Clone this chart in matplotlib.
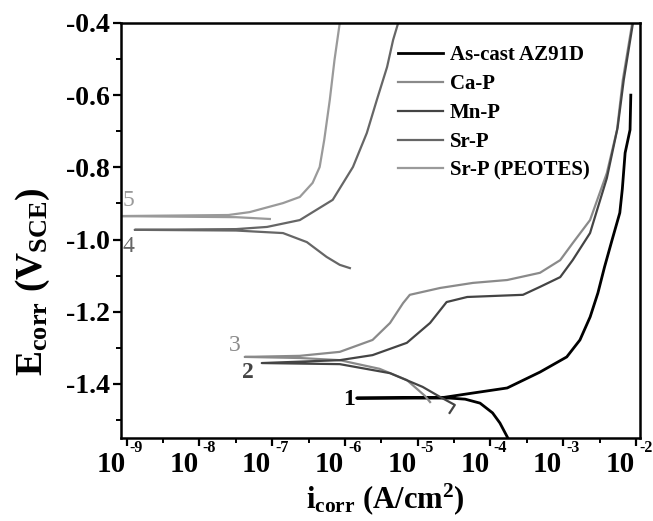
import matplotlib
matplotlib.use('Agg')
import matplotlib.pyplot as plt
from matplotlib.ticker import FixedLocator, NullFormatter
from matplotlib.transforms import blended_transform_factory, offset_copy

plt.rcParams['font.family'] = ['Liberation Serif', 'DejaVu Serif']
plt.rcParams['font.weight'] = 'bold'
plt.rcParams['mathtext.fontset'] = 'custom'
plt.rcParams['mathtext.rm'] = 'Liberation Serif'
plt.rcParams['mathtext.bf'] = 'Liberation Serif:bold'
plt.rcParams['mathtext.it'] = 'Liberation Serif:italic'
plt.rcParams['axes.unicode_minus'] = False

# 1: As-cast AZ91D
i_ascast = [1.74e-4, 1.35e-4, 1.07e-4, 7.2e-5, 4.5e-5, 2.75e-5, 1.45e-6, 2.3e-5, 5.75e-5,
            1.7e-4, 4.8e-4, 1.12e-3, 1.7e-3, 2.35e-3, 3.0e-3, 3.7e-3, 4.7e-3, 6.0e-3,
            6.5e-3, 7.1e-3, 8.3e-3, 8.5e-3]
e_ascast = [-1.550, -1.508, -1.480, -1.453, -1.442, -1.439, -1.439, -1.437, -1.425,
            -1.411, -1.367, -1.325, -1.278, -1.214, -1.148, -1.076, -1.001, -0.926,
            -0.860, -0.760, -0.696, -0.600]

# 2: Mn-P
i_mnp = [2.75e-5, 3.24e-5, 2.04e-5, 1.17e-5, 4.17e-6, 8.5e-7, 7.2e-8, 8.5e-7, 2.4e-6,
         7.1e-6, 1.48e-5, 2.5e-5, 4.8e-5, 2.8e-4, 4.8e-4, 9.1e-4, 1.35e-3, 2.34e-3,
         3.98e-3, 5.6e-3, 6.8e-3, 9.1e-3]
e_mnp = [-1.480, -1.458, -1.436, -1.408, -1.370, -1.345, -1.342, -1.334, -1.320,
         -1.286, -1.231, -1.173, -1.159, -1.153, -1.131, -1.104, -1.057, -0.982,
         -0.830, -0.690, -0.558, -0.400]

# 3: Ca-P
i_cap = [1.48e-5, 1.26e-5, 7.1e-6, 3.0e-6, 8.5e-7, 2.4e-7, 4.2e-8, 2.4e-7, 8.5e-7,
         2.4e-6, 4.17e-6, 6.3e-6, 7.8e-6, 2.04e-5, 5.75e-5, 1.7e-4, 4.8e-4, 9.1e-4,
         1.35e-3, 2.34e-3, 3.98e-3, 5.5e-3, 6.6e-3, 8.9e-3]
e_cap = [-1.450, -1.433, -1.389, -1.358, -1.334, -1.328, -1.325, -1.322, -1.311,
         -1.278, -1.231, -1.176, -1.153, -1.134, -1.120, -1.112, -1.092, -1.057,
         -1.010, -0.946, -0.816, -0.696, -0.558, -0.400]

# 4: Sr-P
i_srp = [1.17e-6, 8.5e-7, 5.6e-7, 3.0e-7, 1.41e-7, 3.2e-8, 1.29e-9, 3.2e-8, 8.5e-8,
         2.4e-7, 6.8e-7, 1.29e-6, 2.0e-6, 2.75e-6, 3.8e-6, 4.6e-6, 5.4e-6]
e_srp = [-1.079, -1.070, -1.048, -1.007, -0.982, -0.975, -0.973, -0.971, -0.965,
         -0.946, -0.890, -0.799, -0.705, -0.613, -0.522, -0.447, -0.400]

# 5: Sr-P (PEOTES)
i_peotes = [9.3e-8, 3.2e-8, 7e-10, 2.5e-8, 4.9e-8, 1.41e-7, 2.4e-7, 3.6e-7, 4.5e-7,
            5.2e-7, 6.2e-7, 7.2e-7, 8.5e-7]
e_peotes = [-0.943, -0.938, -0.935, -0.932, -0.924, -0.899, -0.882, -0.843, -0.799,
            -0.724, -0.613, -0.502, -0.400]

names = ['As-cast AZ91D', 'Ca-P', 'Mn-P', 'Sr-P', 'Sr-P (PEOTES)']
yticks = [-0.4, -0.6, -0.8, -1.0, -1.2, -1.4]
ytick_labels = ['-0.4', '-0.6', '-0.8', '-1.0', '-1.2', '-1.4']
xtick_exp = [-9, -8, -7, -6, -5, -4, -3, -2]

fig = plt.figure(figsize=(6.53, 5.21), dpi=100)
ax = fig.add_axes([0.185, 0.159, 0.795, 0.797])

ax.plot(i_ascast, e_ascast, color='#000000', lw=2.0, label=names[0])
ax.plot(i_cap, e_cap, color='#8a8a8a', lw=1.6, label=names[1])
ax.plot(i_mnp, e_mnp, color='#444444', lw=1.6, label=names[2])
ax.plot(i_srp, e_srp, color='#666666', lw=1.6, label=names[3])
ax.plot(i_peotes, e_peotes, color='#9a9a9a', lw=1.6, label=names[4])

# curve numbers
ax.text(1.15e-6, -1.444, '1', color='black', fontsize=17, fontweight='bold', ha='center', va='center')
ax.text(4.7e-8, -1.367, '2', color='#444444', fontsize=17, fontweight='bold', ha='center', va='center')
ax.text(3.1e-8, -1.292, '3', color='#8a8a8a', fontsize=17, fontweight='normal', ha='center', va='center')
ax.text(1.05e-9, -1.020, '4', color='#666666', fontsize=17, fontweight='normal', ha='center', va='center')
ax.text(1.05e-9, -0.893, '5', color='#9a9a9a', fontsize=17, fontweight='normal', ha='center', va='center')

ax.set_xscale('log')
ax.set_xlim(10 ** -9.08, 10 ** -1.945)
ax.set_ylim(-1.55, -0.4)

ax.set_xticks([10.0 ** k for k in xtick_exp])
ax.xaxis.set_minor_locator(FixedLocator([10 ** (k + 0.5) for k in xtick_exp[:-1]]))
ax.xaxis.set_minor_formatter(NullFormatter())
ax.set_yticks(yticks)
ax.set_yticklabels(ytick_labels)
ax.set_yticks([-0.5, -0.7, -0.9, -1.1, -1.3, -1.5], minor=True)

ax.tick_params(which='major', direction='out', length=6, width=1.6, labelsize=20, pad=2)
ax.tick_params(which='minor', direction='out', length=3.5, width=1.4)
ax.tick_params(axis='x', labelbottom=False)
for s in ax.spines.values():
    s.set_linewidth(1.8)

# x tick labels 10^n drawn as "10" plus a small superscript
trans = blended_transform_factory(ax.transData, ax.transAxes)
for k in xtick_exp:
    ax.text(10.0 ** k, -0.082, '10', transform=offset_copy(trans, fig=fig, x=-1, y=0, units='dots'),
            ha='right', va='baseline', fontsize=21, fontweight='bold', clip_on=False)
    ax.text(10.0 ** k, -0.033, str(k), transform=offset_copy(trans, fig=fig, x=3, y=0, units='dots'),
            ha='left', va='baseline', fontsize=11.5, fontweight='bold', clip_on=False)

ax.set_ylabel(r'$\mathbf{E}_{\rm corr}\ \mathbf{(V}_{\rm SCE}\mathbf{)}$', fontsize=27)
ax.yaxis.set_label_coords(-0.133, 0.378)
ax.set_xlabel(r'$\mathbf{i}_{\rm corr}\ \mathbf{(A/cm}^{\mathbf{2}}\mathbf{)}$', fontsize=22)
ax.xaxis.set_label_coords(0.509, -0.103)

ax.legend(loc='upper left', bbox_to_anchor=(0.534, 0.947), frameon=False, fontsize=15,
          handlelength=2.15, handletextpad=0.35, labelspacing=0.43, borderpad=0, borderaxespad=0)

fig.savefig('out.png', dpi=100)
